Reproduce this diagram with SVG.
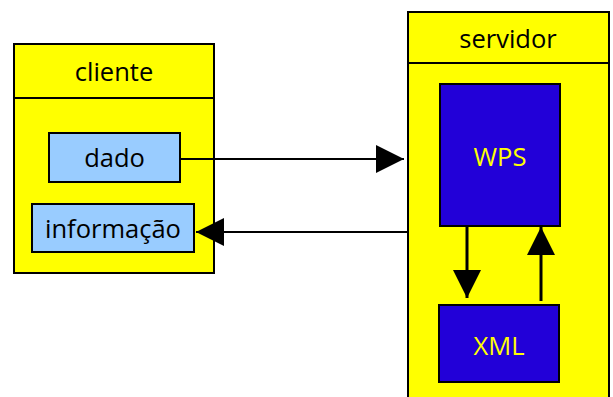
<svg xmlns="http://www.w3.org/2000/svg" width="613" height="397" viewBox="0 0 613 397">
<defs>
<style>
.frame{fill:#FFFF00;stroke:#000;stroke-width:2}
.light{fill:#99CCFF;stroke:#000;stroke-width:2}
.dark{fill:#2200D8;stroke:#000;stroke-width:2}
.t{font-family:"Open Sans","Liberation Sans",sans-serif;font-size:25.5px;text-anchor:middle;fill:#000}
.ty{font-family:"Open Sans","Liberation Sans",sans-serif;font-size:25.5px;text-anchor:middle;fill:#FFFF00}
.c{stroke:#000;fill:none}
</style>
<marker id="ah" markerUnits="userSpaceOnUse" markerWidth="28" markerHeight="28" refX="28" refY="14" orient="auto">
<path d="M0,0 L28,14 L0,28 Z" fill="#000"/>
</marker>
</defs>
<rect width="613" height="397" fill="#fff"/>
<g id="cliente">
<rect class="frame" x="14" y="44" width="200" height="229"/>
<line x1="14" y1="98" x2="214" y2="98" stroke="#000" stroke-width="2"/>
<text class="t" x="114" y="81">cliente</text>
</g>
<g id="dado">
<rect class="light" x="49" y="133" width="131" height="49"/>
<text class="t" x="114.5" y="167">dado</text>
</g>
<g id="informacao">
<rect class="light" x="32" y="204" width="162" height="48"/>
<text class="t" x="113" y="238">informação</text>
</g>
<g id="servidor">
<rect class="frame" x="408" y="12" width="201" height="400"/>
<line x1="408" y1="63" x2="609" y2="63" stroke="#000" stroke-width="2"/>
<text class="t" x="508" y="48">servidor</text>
</g>
<g id="wps">
<rect class="dark" x="440" y="84" width="120" height="142"/>
<text class="ty" x="500" y="166">WPS</text>
</g>
<g id="xml">
<rect class="dark" x="439" y="305" width="120" height="77"/>
<text class="ty" x="499" y="355">XML</text>
</g>
<g id="connectors">
<line class="c" x1="180" y1="159" x2="404" y2="159" stroke-width="2" marker-end="url(#ah)"/>
<line class="c" x1="408" y1="232" x2="196" y2="232" stroke-width="2" marker-end="url(#ah)"/>
<line class="c" x1="467" y1="226" x2="467" y2="298" stroke-width="3" marker-end="url(#ah)"/>
<line class="c" x1="541" y1="301" x2="541" y2="227" stroke-width="3" marker-end="url(#ah)"/>
</g>
</svg>
